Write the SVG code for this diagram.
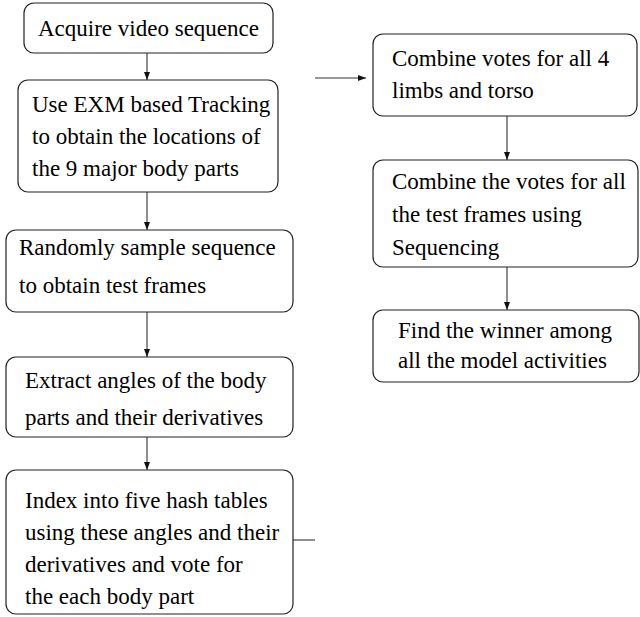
<svg xmlns="http://www.w3.org/2000/svg" width="640" height="617" viewBox="0 0 640 617">
<style>
.box{fill:#fff;stroke:#222;stroke-width:1.2}
.t{font-family:"Liberation Serif","Times New Roman",serif;font-size:23px;fill:#000}
.c{stroke:#333;stroke-width:1.1;fill:none}
</style>
<defs>
<marker id="ah" markerWidth="8" markerHeight="10" refX="8" refY="4" orient="auto" markerUnits="userSpaceOnUse">
<path d="M0,1 L8,4 L0,7 Z" fill="#111"/>
</marker>
</defs>
<rect width="640" height="617" fill="#fff"/>
<g id="connectors">
<line class="c" x1="147" y1="53" x2="147" y2="80" marker-end="url(#ah)"/>
<line class="c" x1="147" y1="192" x2="147" y2="230" marker-end="url(#ah)"/>
<line class="c" x1="147" y1="312" x2="147" y2="357" marker-end="url(#ah)"/>
<line class="c" x1="147" y1="437" x2="147" y2="470" marker-end="url(#ah)"/>
<line class="c" x1="293" y1="540" x2="315" y2="540"/>
<line class="c" x1="315" y1="78" x2="366" y2="78" marker-end="url(#ah)"/>
<line class="c" x1="507" y1="116" x2="507" y2="160" marker-end="url(#ah)"/>
<line class="c" x1="507" y1="267" x2="507" y2="310" marker-end="url(#ah)"/>
</g>
<g id="n1">
<rect class="box" x="24" y="3" width="249" height="50" rx="10"/>
<text class="t" x="38" y="36">Acquire video sequence</text>
</g>
<g id="n2">
<rect class="box" x="18" y="80" width="260" height="112" rx="10"/>
<text class="t" x="32" y="112">Use EXM based Tracking</text>
<text class="t" x="32" y="144">to obtain the locations of</text>
<text class="t" x="32" y="176">the 9 major body parts</text>
</g>
<g id="n3">
<rect class="box" x="6" y="230" width="287" height="82" rx="10"/>
<text class="t" x="19" y="255">Randomly sample sequence</text>
<text class="t" x="19" y="293">to obtain test frames</text>
</g>
<g id="n4">
<rect class="box" x="6" y="357" width="287" height="80" rx="10"/>
<text class="t" x="25" y="388">Extract angles of the body</text>
<text class="t" x="25" y="425">parts and their derivatives</text>
</g>
<g id="n5">
<rect class="box" x="6" y="470" width="287" height="144" rx="10"/>
<text class="t" x="25" y="508">Index into five hash tables</text>
<text class="t" x="25" y="540">using these angles and their</text>
<text class="t" x="25" y="572">derivatives and vote for</text>
<text class="t" x="25" y="604">the each body part</text>
</g>
<g id="r1">
<rect class="box" x="373" y="34" width="264" height="82" rx="10"/>
<text class="t" x="392" y="66">Combine votes for all 4</text>
<text class="t" x="392" y="98">limbs and torso</text>
</g>
<g id="r2">
<rect class="box" x="373" y="160" width="265" height="107" rx="10"/>
<text class="t" x="392" y="189">Combine the votes for all</text>
<text class="t" x="392" y="222">the test frames using</text>
<text class="t" x="392" y="255">Sequencing</text>
</g>
<g id="r3">
<rect class="box" x="373" y="310" width="266" height="72" rx="10"/>
<text class="t" x="398" y="338">Find the winner among</text>
<text class="t" x="398" y="368">all the model activities</text>
</g>
</svg>
